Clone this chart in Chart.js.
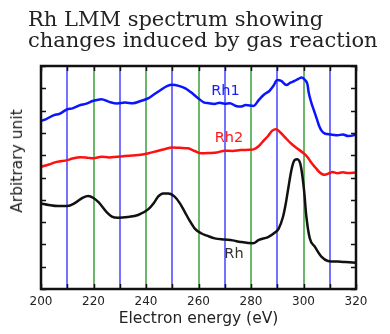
<!DOCTYPE html>
<html lang="en">
<head>
    <meta charset="UTF-8">
    <title>Rh LMM spectrum</title>
    <script src="https://cdn.jsdelivr.net/npm/chart.js"></script>
    <style>
        body {
            margin: 0;
            background: #fff;
        }
        #wrap {
            position: relative;
            width: 390px;
            height: 334px;
        }
        #title {
            position: absolute;
            left: 28px;
            top: 9px;
            font-family: "DejaVu Serif", serif;
            font-size: 21px;
            line-height: 21px;
            color: #222;
            white-space: nowrap;
        }
        #ylabel {
            position: absolute;
            left: 17px;
            top: 161px;
            transform: translate(-50%, -50%) rotate(-90deg);
            font-family: "DejaVu Sans", sans-serif;
            font-size: 15.5px;
            color: #222;
            white-space: nowrap;
        }
        canvas {
            position: absolute;
            left: 0;
            top: 0;
        }
    </style>
</head>
<body>
    <div id="wrap">
        <canvas id="spectrum" width="390" height="334"></canvas>
        <div id="title">Rh LMM spectrum showing<br>changes induced by gas reaction</div>
        <div id="ylabel">Arbitrary unit</div>
    </div>

    <script>
        // x ticks (eV) and their labels
        const xTicks = [200, 210, 220, 230, 240, 250, 260, 270, 280, 290, 300, 310, 320];
        const xTickLabels = ['200', '', '220', '', '240', '', '260', '', '280', '', '300', '', '320'];
        const yTicks = [0, 1, 2, 3, 4, 5, 6, 7, 8, 9, 10];

        // Rh1 (blue)
        const rh1Energy = [200, 202, 205, 207, 210, 212, 215, 217, 220, 223, 226, 229, 232, 235, 238, 241, 243, 246, 248, 250,
            252.5, 255, 257, 260, 262, 264, 266, 268, 270, 272, 274, 276, 278, 281, 283, 285, 287, 288.5, 290, 291.5,
            293.5, 295, 296.6, 298, 299.3, 300.5, 301.5, 302, 303, 304, 305, 306, 307, 308, 309, 311, 313, 315, 317, 319, 320];
        const rh1Values = [7.53, 7.62, 7.80, 7.85, 8.06, 8.10, 8.25, 8.30, 8.44, 8.51, 8.39, 8.32, 8.36, 8.33, 8.43, 8.56, 8.72, 8.96, 9.10, 9.16,
            9.11, 9.00, 8.83, 8.54, 8.37, 8.33, 8.30, 8.35, 8.31, 8.33, 8.22, 8.18, 8.25, 8.21, 8.48, 8.72, 8.88, 9.10, 9.37, 9.33,
            9.15, 9.25, 9.33, 9.42, 9.48, 9.38, 9.18, 8.80, 8.35, 8.00, 7.65, 7.30, 7.08, 6.98, 6.95, 6.92, 6.89, 6.93, 6.86, 6.89, 6.94];

        // Rh2 (red)
        const rh2Energy = [200, 203, 206, 210, 212, 215, 218, 220, 223, 226, 229, 232, 235, 238, 241, 244, 247, 250, 253, 256,
            258.5, 261, 264, 267, 270, 273, 276, 279, 281, 283, 285, 286.5, 288, 289.6, 291, 293, 295, 297, 299.8, 301.5,
            303, 304.5, 306, 308, 310, 311, 313, 315, 317, 320];
        const rh2Values = [5.48, 5.58, 5.70, 5.78, 5.85, 5.91, 5.88, 5.86, 5.93, 5.90, 5.93, 5.96, 5.99, 6.02, 6.09, 6.18, 6.27, 6.35, 6.33, 6.31,
            6.19, 6.09, 6.10, 6.12, 6.20, 6.19, 6.23, 6.24, 6.26, 6.41, 6.68, 6.86, 7.09, 7.16, 7.04, 6.80, 6.55, 6.36, 6.11, 5.92,
            5.66, 5.45, 5.25, 5.12, 5.20, 5.25, 5.19, 5.23, 5.20, 5.22];

        // Rh (black)
        const rhEnergy = [200, 203, 206.5, 210, 213, 216, 218, 220, 222, 225, 227, 229.3, 233, 237, 240.8, 243, 244.6, 246.5, 248.5, 250.9,
            252.8, 254.7, 256.5, 258.5, 261, 263.5, 266.2, 270, 273, 276, 280.8, 283, 286.5, 289, 290.5, 292.2, 293.2, 294.1, 295.4, 296.6,
            297.6, 298.9, 300.2, 301.1, 302.4, 304.3, 306.8, 309.3, 313, 316, 320];
        const rhValues = [3.84, 3.77, 3.72, 3.72, 3.86, 4.10, 4.17, 4.08, 3.88, 3.45, 3.25, 3.20, 3.23, 3.32, 3.57, 3.86, 4.14, 4.28, 4.28, 4.14,
            3.86, 3.47, 3.09, 2.72, 2.50, 2.38, 2.27, 2.22, 2.18, 2.11, 2.05, 2.20, 2.33, 2.52, 2.70, 3.24, 3.80, 4.44, 5.34, 5.78,
            5.82, 5.56, 4.44, 3.24, 2.27, 1.90, 1.45, 1.26, 1.23, 1.21, 1.18];

        function toPoints(xs, ys) {
            return xs.map((x, i) => ({ x: x, y: ys[i] }));
        }

        function gridColor(v) {
            if (v <= 200 || v >= 320) return 'rgba(0,0,0,0)';
            return ((v - 200) / 10) % 2 === 1 ? 'rgba(80,80,255,0.8)' : 'rgba(70,165,70,0.8)';
        }

        // frame with inward tick marks on all four sides, plus curve labels
        const framePlugin = {
            id: 'frame',
            afterDatasetsDraw(chart) {
                const { ctx, chartArea: a, scales } = chart;
                ctx.save();
                ctx.strokeStyle = '#111';
                ctx.lineWidth = 1.5;
                ctx.beginPath();
                yTicks.forEach(v => {
                    const y = Math.round(scales.y.getPixelForValue(v)) + 0.5;
                    ctx.moveTo(a.left, y); ctx.lineTo(a.left + 5, y);
                    ctx.moveTo(a.right, y); ctx.lineTo(a.right - 5, y);
                });
                xTicks.forEach(v => {
                    const x = Math.round(scales.x.getPixelForValue(v)) + 0.5;
                    ctx.moveTo(x, a.bottom); ctx.lineTo(x, a.bottom - 5);
                    ctx.moveTo(x, a.top); ctx.lineTo(x, a.top + 5);
                });
                ctx.stroke();
                ctx.lineWidth = 2.5;
                ctx.strokeRect(a.left, a.top, a.right - a.left, a.bottom - a.top);

                const labels = [
                    { text: 'Rh1', x: 270.3, y: 8.85, color: '#1a1aff' },
                    { text: 'Rh2', x: 271.6, y: 6.77, color: '#ff1a1a' },
                    { text: 'Rh', x: 273.5, y: 1.57, color: '#333' }
                ];
                ctx.font = '14.5px "DejaVu Sans"';
                ctx.textAlign = 'center';
                ctx.textBaseline = 'middle';
                labels.forEach(l => {
                    ctx.fillStyle = l.color;
                    ctx.fillText(l.text, scales.x.getPixelForValue(l.x), scales.y.getPixelForValue(l.y));
                });
                ctx.restore();
            }
        };

        const lineStyle = { pointRadius: 0, borderWidth: 2.5, cubicInterpolationMode: 'monotone', fill: false };

        new Chart(document.getElementById('spectrum').getContext('2d'), {
            type: 'line',
            data: {
                datasets: [
                    Object.assign({ label: 'Rh1', data: toPoints(rh1Energy, rh1Values), borderColor: '#0a14ff' }, lineStyle),
                    Object.assign({ label: 'Rh2', data: toPoints(rh2Energy, rh2Values), borderColor: '#ff1010' }, lineStyle),
                    Object.assign({ label: 'Rh', data: toPoints(rhEnergy, rhValues), borderColor: '#111' }, lineStyle)
                ]
            },
            options: {
                responsive: false,
                animation: false,
                layout: { padding: { top: 66, right: 34, left: 0, bottom: 0 } },
                plugins: {
                    legend: { display: false },
                    tooltip: { enabled: false }
                },
                scales: {
                    x: {
                        type: 'linear',
                        min: 200,
                        max: 320,
                        afterBuildTicks: s => { s.ticks = xTicks.map(v => ({ value: v })); },
                        afterFit: s => { s.height = 45; },
                        grid: { color: c => gridColor(c.tick.value), lineWidth: 2, drawTicks: false },
                        border: { display: false },
                        ticks: {
                            autoSkip: false,
                            maxRotation: 0,
                            padding: 6,
                            color: '#222',
                            font: { family: 'DejaVu Sans', size: 12 },
                            callback: (v, i) => xTickLabels[i]
                        },
                        title: {
                            display: true,
                            text: 'Electron energy (eV)',
                            color: '#222',
                            font: { family: 'DejaVu Sans', size: 15.5 },
                            padding: { top: 0, bottom: 6 }
                        }
                    },
                    y: {
                        min: 0,
                        max: 10,
                        afterBuildTicks: s => { s.ticks = yTicks.map(v => ({ value: v })); },
                        afterFit: s => { s.width = 41; },
                        ticks: { display: false },
                        grid: { display: false },
                        border: { display: false }
                    }
                }
            },
            plugins: [framePlugin]
        });
    </script>
</body>
</html>
